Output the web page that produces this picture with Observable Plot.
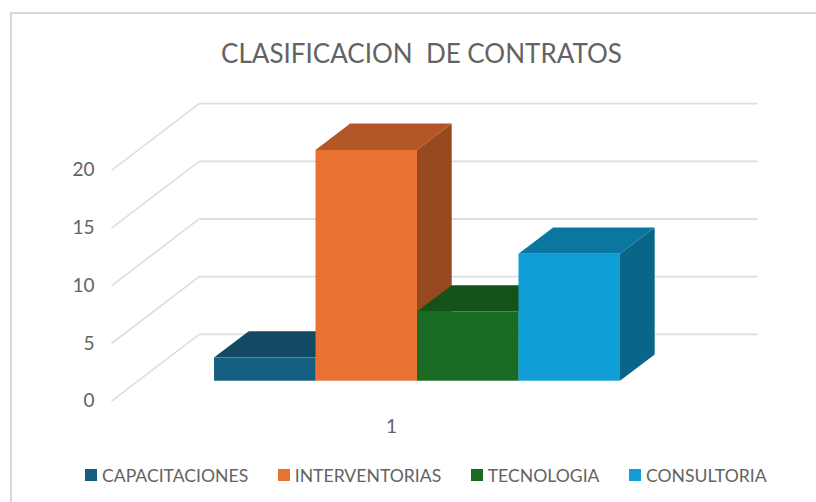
<!DOCTYPE html>
<html>
<head>
<meta charset="utf-8">
<script src="https://cdn.jsdelivr.net/npm/d3@7"></script>
<script src="https://cdn.jsdelivr.net/npm/@observablehq/plot@0.6"></script>
<style>
  html, body { margin: 0; padding: 0; background: #fff; overflow: hidden; }
  #chart { position: relative; width: 816px; height: 502px; font-family: Lato, sans-serif; color: #636363; overflow: hidden; }
  #frame { position: absolute; left: 10px; top: 12px; width: 830px; height: 520px; border: 2px solid #d9d9d9; box-sizing: border-box; pointer-events: none; }
  #title { position: relative; height: 80px; line-height: 107px; text-align: center; font-size: 26px; padding-left: 27px; box-sizing: border-box; white-space: pre; overflow: visible; }
  #plot { position: relative; height: 360px; }
  #plot svg { display: block; }
  #legend { position: relative; display: flex; gap: 29.5px; padding-left: 85px; height: 62px; align-items: center; box-sizing: border-box; padding-top: 8px; font-size: 17.6px; white-space: nowrap; }
  .item { display: flex; align-items: center; gap: 5px; }
  .swatch { display: inline-block; width: 12px; height: 12px; }
</style>
</head>
<body>
<div id="chart">
  <div id="frame"></div>
  <div id="title"></div>
  <div id="plot"></div>
  <div id="legend"></div>
</div>
<script>
const titleText = "CLASIFICACION  DE CONTRATOS";
const categories = ["CAPACITACIONES", "INTERVENTORIAS", "TECNOLOGIA", "CONSULTORIA"];
const values = [2, 20, 6, 11];
const yTicks = [0, 5, 10, 15, 20];
const xLabel = "1";
const frontColors = ["#156082", "#E97132", "#196B24", "#0F9ED5"];
const topColors = ["#124A63", "#B25625", "#145218", "#0B76A0"];
const sideColors = ["#0E4259", "#96491F", "#11461A", "#0A6688"];

// 3D projection constants, in scale units (one bar wide on x, one value on y)
const barStart = 1.015, barDepthX = 0.342, barDepthY = 2.28, floorLift = 1.733;
const wallX = 0.864, wallY = 5.79, gridEnd = 6.365, labelX = 2.76;

document.getElementById("title").textContent = titleText;

const marks = [];
// wall grid: diagonal side wall and horizontal back wall
marks.push(Plot.link(yTicks, {
  x1: () => 0, y1: d => d, x2: () => wallX, y2: d => d + wallY,
  stroke: "#dedede", strokeWidth: 1.6
}));
marks.push(Plot.link(yTicks, {
  x1: () => wallX, y1: d => d + wallY, x2: () => gridEnd, y2: d => d + wallY,
  stroke: "#dedede", strokeWidth: 1.8
}));
values.forEach((v, i) => {
  const x0 = barStart + i, x1 = x0 + 1;
  const base = floorLift, top = floorLift + v;
  // right side face
  marks.push(Plot.areaY([
    {x: x1, y1: base, y2: top},
    {x: x1 + barDepthX, y1: base + barDepthY, y2: top + barDepthY}
  ], {x: "x", y1: "y1", y2: "y2", fill: sideColors[i], curve: "linear"}));
  // top face
  marks.push(Plot.areaX([
    {y: top, x1: x0, x2: x1},
    {y: top + barDepthY, x1: x0 + barDepthX, x2: x1 + barDepthX}
  ], {y: "y", x1: "x1", x2: "x2", fill: topColors[i], curve: "linear"}));
  // front face
  marks.push(Plot.rect([{x1: x0, x2: x1, y1: base, y2: top}], {
    x1: "x1", x2: "x2", y1: "y1", y2: "y2", fill: frontColors[i], inset: 0
  }));
});
marks.push(Plot.axisY({
  ticks: yTicks, tickSize: 0, tickPadding: 17, anchor: "left",
  label: null, fontSize: 19, fill: "#636363"
}));
marks.push(Plot.axisX({
  ticks: [labelX], tickFormat: () => xLabel, tickSize: 0, tickPadding: 18, anchor: "bottom",
  label: null, fontSize: 19, fill: "#636363"
}));

const plot = Plot.plot({
  width: 816,
  height: 360,
  marginLeft: 111,
  marginRight: 59,
  marginTop: 20.66,
  marginBottom: 39.3,
  style: {fontFamily: "Lato, sans-serif", background: "transparent", overflow: "visible"},
  x: {type: "linear", domain: [0, gridEnd]},
  y: {type: "linear", domain: [0, 26]},
  marks
});
document.getElementById("plot").appendChild(plot);

const legend = document.getElementById("legend");
categories.forEach((c, i) => {
  const item = document.createElement("div");
  item.className = "item";
  const sw = document.createElement("span");
  sw.className = "swatch";
  sw.style.background = frontColors[i];
  const label = document.createElement("span");
  label.textContent = c;
  item.append(sw, label);
  legend.appendChild(item);
});
</script>
</body>
</html>
